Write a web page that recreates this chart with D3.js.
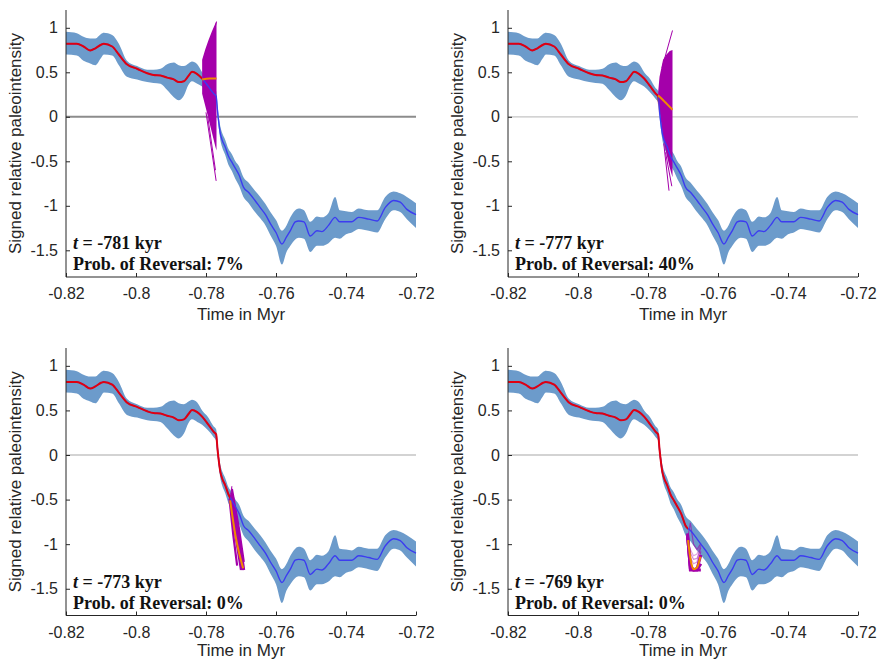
<!DOCTYPE html>
<html><head><meta charset="utf-8">
<script src="https://cdn.jsdelivr.net/npm/d3@7"></script>
<style>body{margin:0;background:#fff} svg{display:block}</style>
</head><body>
<svg id="c" width="878" height="660"></svg>
<script>
// ---------- data ----------
const time = [-0.8200,-0.8169,-0.8150,-0.8131,-0.8116,-0.8100,-0.8092,-0.8068,-0.8049,-0.8026,-0.7997,-0.7968,-0.7950,-0.7930,-0.7911,-0.7892,-0.7878,-0.7863,-0.7850,-0.7840,-0.7825,-0.7811,-0.7795,-0.7778,-0.7771,-0.7767,-0.7763,-0.7759,-0.7754,-0.7745,-0.7736,-0.7726,-0.7716,-0.7705,-0.7693,-0.7678,-0.7660,-0.7645,-0.7630,-0.7616,-0.7600,-0.7583,-0.7570,-0.7559,-0.7545,-0.7535,-0.7520,-0.7502,-0.7483,-0.7469,-0.7450,-0.7431,-0.7418,-0.7400,-0.7383,-0.7364,-0.7335,-0.7311,-0.7288,-0.7264,-0.7245,-0.7226,-0.7200];
const meanVal = [0.82,0.82,0.79,0.745,0.77,0.81,0.82,0.79,0.70,0.59,0.54,0.49,0.47,0.465,0.44,0.42,0.39,0.40,0.46,0.505,0.48,0.43,0.35,0.26,0.23,0.06,-0.08,-0.19,-0.26,-0.34,-0.44,-0.51,-0.58,-0.66,-0.79,-0.85,-0.94,-1.02,-1.10,-1.20,-1.30,-1.43,-1.35,-1.28,-1.18,-1.17,-1.18,-1.34,-1.28,-1.29,-1.22,-1.13,-1.18,-1.18,-1.18,-1.13,-1.15,-1.17,-1.02,-0.94,-0.96,-1.04,-1.10];
const lowerVal = [0.70,0.69,0.63,0.60,0.58,0.66,0.70,0.69,0.58,0.45,0.42,0.39,0.38,0.37,0.30,0.22,0.185,0.24,0.36,0.40,0.37,0.34,0.28,0.20,0.16,0.0,-0.14,-0.26,-0.34,-0.43,-0.54,-0.61,-0.70,-0.78,-0.90,-0.97,-1.07,-1.14,-1.22,-1.33,-1.45,-1.66,-1.52,-1.45,-1.38,-1.36,-1.37,-1.52,-1.45,-1.45,-1.42,-1.36,-1.37,-1.32,-1.30,-1.26,-1.28,-1.30,-1.15,-1.05,-1.07,-1.15,-1.25];
const upperVal = [0.955,0.94,0.90,0.88,0.88,0.93,0.944,0.92,0.82,0.63,0.57,0.53,0.53,0.54,0.59,0.61,0.58,0.57,0.60,0.62,0.59,0.50,0.43,0.32,0.29,0.13,-0.01,-0.11,-0.18,-0.26,-0.36,-0.42,-0.50,-0.56,-0.68,-0.74,-0.83,-0.90,-0.98,-1.07,-1.16,-1.28,-1.22,-1.13,-1.05,-1.03,-1.05,-1.18,-1.12,-1.13,-1.08,-0.90,-1.05,-1.06,-1.07,-1.03,-1.05,-1.05,-0.90,-0.84,-0.86,-0.90,-0.97];

const xTicks = [-0.82,-0.8,-0.78,-0.76,-0.74,-0.72];
const yTicks = [-1.5,-1,-0.5,0,0.5,1];
const xTickLabels = ["-0.82","-0.8","-0.78","-0.76","-0.74","-0.72"];
const yTickLabels = ["-1.5","-1","-0.5","0","0.5","1"];

const panelKyr = [-781,-777,-773,-769];
const panelObsEnd = [-0.7811,-0.7771,-0.7731,-0.76857];
const panelProb = ["7%","40%","0%","0%"];

// ensemble envelopes (panels 1, 2)
const env1T  = [-0.7811,-0.7802,-0.7793,-0.7783,-0.7773,-0.7770];
const env1Lo = [0.26,0.12,-0.02,-0.18,-0.34,-0.38];
const env1Hi = [0.64,0.76,0.86,0.96,1.05,1.07];
const env2T  = [-0.7771,-0.7767,-0.7757,-0.7747,-0.7738,-0.7730];
const env2Lo = [0.20,0.07,-0.23,-0.42,-0.57,-0.68];
const env2Hi = [0.28,0.45,0.64,0.70,0.74,0.75];

// individual ensemble samples [time, value] (strays and narrow fans)
const samples1 = [
  [[-0.7800,0.05],[-0.7771,-0.72]],
  [[-0.7795,0.00],[-0.7773,-0.60]],
  [[-0.7792,0.70],[-0.7770,1.07]]
];
const samples2 = [
  [[-0.7760,0.55],[-0.7730,0.97]],
  [[-0.7755,-0.30],[-0.7740,-0.83]],
  [[-0.7750,-0.40],[-0.7732,-0.78]]
];
const samples3 = [
  [[-0.7733,-0.49],[-0.7722,-0.90],[-0.7711,-1.24]],
  [[-0.7731,-0.47],[-0.7716,-0.90],[-0.7700,-1.29]],
  [[-0.7730,-0.46],[-0.7713,-0.90],[-0.7697,-1.29]],
  [[-0.7729,-0.45],[-0.7710,-0.88],[-0.7694,-1.29]],
  [[-0.7727,-0.42],[-0.7707,-0.86],[-0.7691,-1.29]],
  [[-0.7726,-0.38],[-0.7706,-0.82],[-0.7692,-1.20]],
  [[-0.7731,-0.50],[-0.7726,-0.35]]
];
const samples4T = [-0.76870,-0.76790,-0.76700,-0.76600,-0.76490];
const samples4 = [
  [-0.90,-1.27,-1.29,-1.29,-1.29],
  [-0.92,-1.24,-1.29,-1.29,-1.22],
  [-0.94,-1.20,-1.28,-1.26,-1.08],
  [-0.94,-1.15,-1.22,-1.20,-1.02],
  [-0.94,-1.06,-1.13,-1.11,-1.00],
  [-0.94,-0.76,-1.00,-1.06,-0.99],
  [-0.88,-1.29,-1.29,-1.28,-1.12],
  [-0.94,-1.10,-1.17,-1.16,-1.04]
];
const samples4Alpha = [1,1,0.6,0.4,0.35,0.6,1,0.45];

// ensemble means (orange)
const fcMean1 = [[-0.7811,0.42],[-0.7790,0.43],[-0.7770,0.43]];
const fcMean2 = [[-0.7771,0.24],[-0.7760,0.20],[-0.7750,0.16],[-0.7740,0.12],[-0.7730,0.08]];
const fcMean3 = [[-0.7731,-0.51],[-0.7716,-0.90],[-0.7694,-1.27]];
const fcMean4 = [[-0.76857,-0.955],[-0.76762,-1.217],[-0.76695,-1.281],[-0.76600,-1.262],[-0.76505,-1.142]];

// ---------- layout ----------
const frames = [
  {l:66, r:416, t:10, b:277, title:43},
  {l:508, r:858, t:10, b:277, title:43},
  {l:66, r:416, t:348, b:615.5, title:40},
  {l:508, r:858, t:348, b:615.5, title:40}
];
const C = {band:"#6c9bcb", blue:"#3c3cf0", red:"#e00010", purple:"#a400aa", orange:"#f08a00", axis:"#262626"};

const svg = d3.select("#c");
const pts = time.map((t,i)=>({t, m:meanVal[i], lo:lowerVal[i], hi:upperVal[i]}));

frames.forEach((f,pi)=>{
  const x = d3.scaleLinear().domain([-0.82,-0.72]).range([f.l,f.r]);
  const y = d3.scaleLinear().domain([-1.8,1.2]).range([f.b,f.t]);
  const g = svg.append("g");
  const cid = "clip"+pi;
  g.append("clipPath").attr("id",cid).append("rect").attr("x",f.l).attr("y",f.t).attr("width",f.r-f.l).attr("height",f.b-f.t);
  const cidR = "clipr"+pi;
  g.append("clipPath").attr("id",cidR).append("rect").attr("x",f.l).attr("y",f.t).attr("width",x(panelObsEnd[pi])-f.l).attr("height",f.b-f.t);

  // zero line
  g.append("line").attr("x1",x(-0.82)).attr("x2",x(-0.72)).attr("y1",y(0)).attr("y2",y(0))
    .attr("stroke", pi===0 ? "#8c8c8c" : "#c4c4c4").attr("stroke-width", pi===0 ? 2 : 1.3);

  // band
  g.append("path").datum(pts).attr("fill",C.band)
    .attr("d", d3.area().curve(d3.curveMonotoneX).x(d=>x(d.t)).y0(d=>y(d.lo)).y1(d=>y(d.hi)));

  // ensemble
  const ens = g.append("g").attr("clip-path",`url(#${cid})`);
  const lineTV = d3.line().x(d=>x(d[0])).y(d=>y(d[1]));
  if(pi===0 || pi===1){
    const eT = pi===0?env1T:env2T, eLo = pi===0?env1Lo:env2Lo, eHi = pi===0?env1Hi:env2Hi;
    ens.append("path").datum(eT.map((t,i)=>({t,lo:eLo[i],hi:eHi[i]})))
      .attr("fill",C.purple)
      .attr("d", d3.area().x(d=>x(d.t)).y0(d=>y(d.lo)).y1(d=>y(d.hi)));
    (pi===0?samples1:samples2).forEach(s=>{
      ens.append("path").datum(s).attr("fill","none").attr("stroke",C.purple).attr("stroke-width",1).attr("d",lineTV);
    });
  } else if(pi===2){
    samples3.forEach((s,i)=>{
      ens.append("path").datum(s).attr("fill","none").attr("stroke",C.purple)
        .attr("stroke-width", i===6?1:2.2).attr("d",lineTV);
    });
  } else {
    samples4.forEach((s,i)=>{
      ens.append("path").datum(s.map((v,j)=>[samples4T[j],v])).attr("fill","none")
        .attr("stroke",C.purple).attr("stroke-opacity",samples4Alpha[i])
        .attr("stroke-width", samples4Alpha[i]>0.9?3:1.2).attr("d",lineTV);
    });
  }

  // mean line (blue), observed (red)
  const ml = d3.line().curve(d3.curveMonotoneX).x(d=>x(d.t)).y(d=>y(d.m));
  g.append("path").datum(pts).attr("fill","none").attr("stroke",C.blue).attr("stroke-width",1.4).attr("d",ml);
  g.append("path").datum(pts).attr("fill","none").attr("stroke",C.red).attr("stroke-width",2)
    .attr("clip-path",`url(#${cidR})`).attr("d",ml);

  // forecast mean
  const fm = [fcMean1,fcMean2,fcMean3,fcMean4][pi];
  g.append("path").datum(fm).attr("fill","none").attr("stroke",C.orange).attr("stroke-width",2).attr("d",lineTV.curve(d3.curveMonotoneX));

  // axes
  const ax = g.append("g").attr("transform",`translate(0,${f.b})`)
    .call(d3.axisBottom(x).tickValues(xTicks).tickFormat((d,i)=>xTickLabels[i]).tickSizeInner(-4).tickSizeOuter(0).tickPadding(11));
  const ay = g.append("g").attr("transform",`translate(${f.l},0)`)
    .call(d3.axisLeft(y).tickValues(yTicks).tickFormat((d,i)=>yTickLabels[i]).tickSizeInner(-4).tickSizeOuter(0).tickPadding(8));
  [ax,ay].forEach(a=>{
    a.select(".domain").attr("stroke",C.axis).attr("stroke-width",1);
    a.selectAll(".tick line").attr("stroke",C.axis);
    a.selectAll("text").attr("fill",C.axis).style("font-family","'Liberation Sans', Arial, sans-serif").style("font-size","16px");
  });
  ay.select(".domain").attr("d",`M0,${f.b}V${f.t}`);
  ax.select(".domain").attr("d",`M${f.l},0H${f.r}`);

  // axis titles
  g.append("text").attr("x",(f.l+f.r)/2).attr("y",f.b+f.title).attr("text-anchor","middle")
    .attr("fill",C.axis).style("font-family","'Liberation Sans', Arial, sans-serif").style("font-size","17px")
    .text("Time in Myr");
  g.append("text").attr("transform",`translate(${f.l-45},${(f.t+f.b)/2}) rotate(-90)`).attr("text-anchor","middle")
    .attr("fill",C.axis).style("font-family","'Liberation Sans', Arial, sans-serif").style("font-size","17px")
    .text("Signed relative paleointensity");

  // annotation
  const ann = g.append("text").attr("x",f.l+7).attr("y",f.b-28)
    .style("font-family","'Liberation Serif','Times New Roman',serif").style("font-size","18px").style("font-weight","bold").attr("fill","#111");
  ann.append("tspan").style("font-style","italic").text("t");
  ann.append("tspan").text(` = ${panelKyr[pi]} kyr`);
  g.append("text").attr("x",f.l+7).attr("y",f.b-7)
    .style("font-family","'Liberation Serif','Times New Roman',serif").style("font-size","18px").style("font-weight","bold").attr("fill","#111")
    .text(`Prob. of Reversal: ${panelProb[pi]}`);
});
</script>
</body></html>
